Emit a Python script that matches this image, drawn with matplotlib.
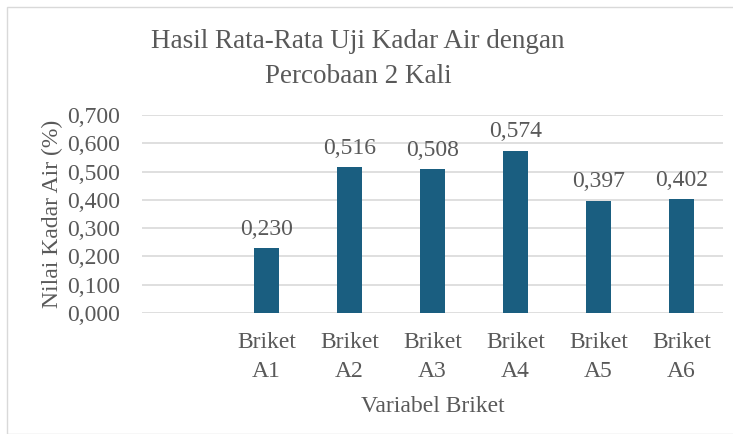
import matplotlib
matplotlib.use("Agg")
import matplotlib.pyplot as plt
from matplotlib.patches import Rectangle

categories = ["", "Briket\nA1", "Briket\nA2", "Briket\nA3", "Briket\nA4", "Briket\nA5", "Briket\nA6"]
values = [None, 0.230, 0.516, 0.508, 0.574, 0.397, 0.402]
yticks = [0.0, 0.1, 0.2, 0.3, 0.4, 0.5, 0.6, 0.7]

plt.rcParams['font.family'] = 'serif'
plt.rcParams['font.serif'] = ['Liberation Serif', 'Times New Roman', 'DejaVu Serif']
txt = '#595959'
bar_color = '#1a5e80'
grid = '#d9d9d9'

fig = plt.figure(figsize=(7.33, 4.34), dpi=100)
ax = fig.add_axes([142/733, 1 - 313/434, (723 - 142)/733, (313 - 115)/434])

xs = [i for i, v in enumerate(values) if v is not None]
vs = [v for v in values if v is not None]
ax.bar(xs, vs, width=0.31, color=bar_color, zorder=3)
for x, v in zip(xs, vs):
    ax.annotate(f"{v:.3f}".replace('.', ','), (x, v), xytext=(0, 6), textcoords='offset points',
                ha='center', va='bottom', fontsize=17, color=txt)

ax.set_xlim(-0.5, len(categories) - 0.5)
ax.set_ylim(0, 0.7)
ax.set_yticks(yticks)
ax.set_yticklabels([f"{t:.3f}".replace('.', ','), ] if False else [f"{t:.3f}".replace('.', ',') for t in yticks],
                   fontsize=17, color=txt)
ax.set_xticks(range(len(categories)))
ax.set_xticklabels(categories, fontsize=17, color=txt, linespacing=1.45)
ax.tick_params(axis='y', length=0, pad=16)
ax.tick_params(axis='x', length=0, pad=14)
ax.grid(axis='y', color=grid, linewidth=1.2, zorder=0)
for s in ax.spines.values():
    s.set_visible(False)
ax.set_xlabel("Variabel Briket", fontsize=17, color=txt, labelpad=10)
ax.set_ylabel("Nilai Kadar Air (%)", fontsize=17, color=txt, labelpad=3)

fig.text(358/733, 1 - 59/434, "Hasil Rata-Rata Uji Kadar Air dengan\nPercobaan 2 Kali",
         ha='center', va='center', fontsize=19.5, color=txt, linespacing=1.5)

fig.patches.append(Rectangle((7/733, 0), 1, 1 - 7/434, transform=fig.transFigure,
                             fill=False, edgecolor=grid, linewidth=1))

fig.savefig("out.png", dpi=100)
